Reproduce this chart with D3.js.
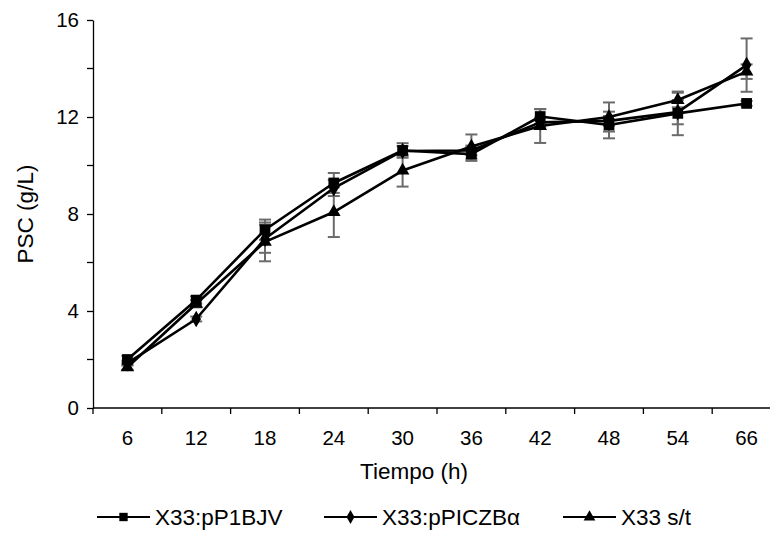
<!DOCTYPE html>
<html>
<head>
<meta charset="utf-8">
<script src="https://cdn.jsdelivr.net/npm/d3@7"></script>
<style>
  body { margin: 0; background: #fff; }
  svg { font-family: "Liberation Sans", Arial, sans-serif; }
</style>
</head>
<body>
<svg id="chart" width="770" height="557"></svg>
<script>
const times = ['6', '12', '18', '24', '30', '36', '42', '48', '54', '66'];
const yTicks = [0, 4, 8, 12, 16];
const yMinorTicks = [2, 6, 10, 14];

const pP1BJV = [2.0, 4.45, 7.35, 9.28, 10.62, 10.47, 12.02, 11.67, 12.15, 12.56];
const pP1BJVErr = [0.15, 0.15, 0.42, 0.41, 0.3, 0.28, 0.3, 0.55, 0.9, 0.1];
const pPICZBa = [1.85, 3.67, 6.98, 9.07, 10.6, 10.62, 11.78, 11.84, 12.2, 14.14];
const pPICZBaErr = [0.1, 0.1, 0.58, 0.33, 0.2, 0.2, 0.2, 0.2, 0.5, 1.1];
const sinTrans = [1.68, 4.3, 6.85, 8.08, 9.79, 10.78, 11.63, 12.0, 12.7, 13.87];
const sinTransErr = [0.1, 0.15, 0.8, 1.03, 0.66, 0.5, 0.7, 0.6, 0.3, 0.3];

const series = [
  {name: 'X33:pP1BJV', values: pP1BJV, err: pP1BJVErr, symbol: d3.symbolSquare, size: 115, legendSize: 70},
  {name: 'X33:pPICZBα', values: pPICZBa, err: pPICZBaErr, symbol: d3.symbolDiamond, size: 80, legendSize: 55},
  {name: 'X33 s/t', values: sinTrans, err: sinTransErr, symbol: d3.symbolTriangle, size: 80, legendSize: 60}
];

const svg = d3.select('#chart');
const marginLeft = 93, marginTop = 20, baseline = 408;
const bandWidth = 68.8;

const x = d3.scaleBand()
  .domain(times)
  .range([marginLeft, marginLeft + bandWidth * times.length])
  .paddingInner(0).paddingOuter(0);
const y = d3.scaleLinear().domain([0, 16]).range([baseline, marginTop]);

// x axis: ticks at category boundaries, labels centered
const xg = svg.append('g').attr('transform', `translate(0,${baseline})`);
xg.append('line')
  .attr('x1', marginLeft).attr('x2', x.range()[1])
  .attr('stroke', '#000').attr('stroke-width', 1.3);
xg.selectAll('.tk')
  .data(times.map(t => x(t)).concat([x.range()[1]]))
  .join('line')
    .attr('x1', d => d).attr('x2', d => d)
    .attr('y1', 0).attr('y2', 6)
    .attr('stroke', '#000').attr('stroke-width', 1.3);
xg.selectAll('text')
  .data(times)
  .join('text')
    .attr('x', d => x(d) + x.bandwidth() / 2)
    .attr('y', 37)
    .attr('text-anchor', 'middle')
    .attr('font-size', 20.5)
    .text(d => d);

// y axis
const yAxis = d3.axisLeft(y).tickValues(yTicks).tickSize(6).tickSizeOuter(0).tickPadding(8);
svg.append('g')
    .attr('transform', `translate(${marginLeft},0)`)
    .call(yAxis)
    .call(g => g.selectAll('.tick text').attr('font-size', 20.5).attr('font-family', 'Liberation Sans, Arial, sans-serif').attr('fill', '#000'))
    .call(g => g.selectAll('line, path').attr('stroke', '#000').attr('stroke-width', 1.3))
    .call(g => g.selectAll('.minor')
      .data(yMinorTicks)
      .join('line')
        .attr('x1', -6).attr('x2', 0)
        .attr('y1', d => y(d)).attr('y2', d => y(d))
        .attr('stroke', '#000').attr('stroke-width', 1.3));

// axis titles
svg.append('text')
  .attr('transform', `translate(33,${(marginTop + baseline) / 2}) rotate(-90)`)
  .attr('text-anchor', 'middle')
  .attr('font-size', 22.5)
  .text('PSC (g/L)');
svg.append('text')
  .attr('x', 414).attr('y', 479)
  .attr('text-anchor', 'middle')
  .attr('font-size', 22.5)
  .text('Tiempo (h)');

const cx = t => x(t) + x.bandwidth() / 2;

// error bars
series.forEach(s => {
  const g = svg.append('g').attr('stroke', '#6b6b6b').attr('stroke-width', 2);
  times.forEach((t, i) => {
    const lo = y(s.values[i] - s.err[i]), hi = y(s.values[i] + s.err[i]);
    g.append('line').attr('x1', cx(t)).attr('x2', cx(t)).attr('y1', lo).attr('y2', hi);
    g.append('line').attr('x1', cx(t) - 6).attr('x2', cx(t) + 6).attr('y1', lo).attr('y2', lo);
    g.append('line').attr('x1', cx(t) - 6).attr('x2', cx(t) + 6).attr('y1', hi).attr('y2', hi);
  });
});

// lines
const line = d3.line().x((d, i) => cx(times[i])).y(d => y(d));
series.forEach(s => {
  svg.append('path')
    .datum(s.values)
    .attr('fill', 'none')
    .attr('stroke', '#000')
    .attr('stroke-width', 2.6)
    .attr('stroke-linejoin', 'round')
    .attr('d', line);
});

// markers
series.forEach(s => {
  svg.append('g')
    .selectAll('path')
    .data(s.values)
    .join('path')
      .attr('transform', (d, i) => `translate(${cx(times[i])},${y(d)})`)
      .attr('d', d3.symbol(s.symbol, s.size))
      .attr('fill', '#000');
});

// legend
const legendX = [97, 324, 563];
const legendY = 517;
const lg = svg.append('g');
series.forEach((s, i) => {
  const g = lg.append('g').attr('transform', `translate(${legendX[i]},${legendY})`);
  g.append('line').attr('x1', 0).attr('x2', 53).attr('stroke', '#000').attr('stroke-width', 2);
  g.append('path').attr('transform', 'translate(26.5,0)').attr('d', d3.symbol(s.symbol, s.legendSize)).attr('fill', '#000');
  g.append('text').attr('x', 58).attr('y', 8).attr('font-size', 22.5).text(s.name);
});
</script>
</body>
</html>
